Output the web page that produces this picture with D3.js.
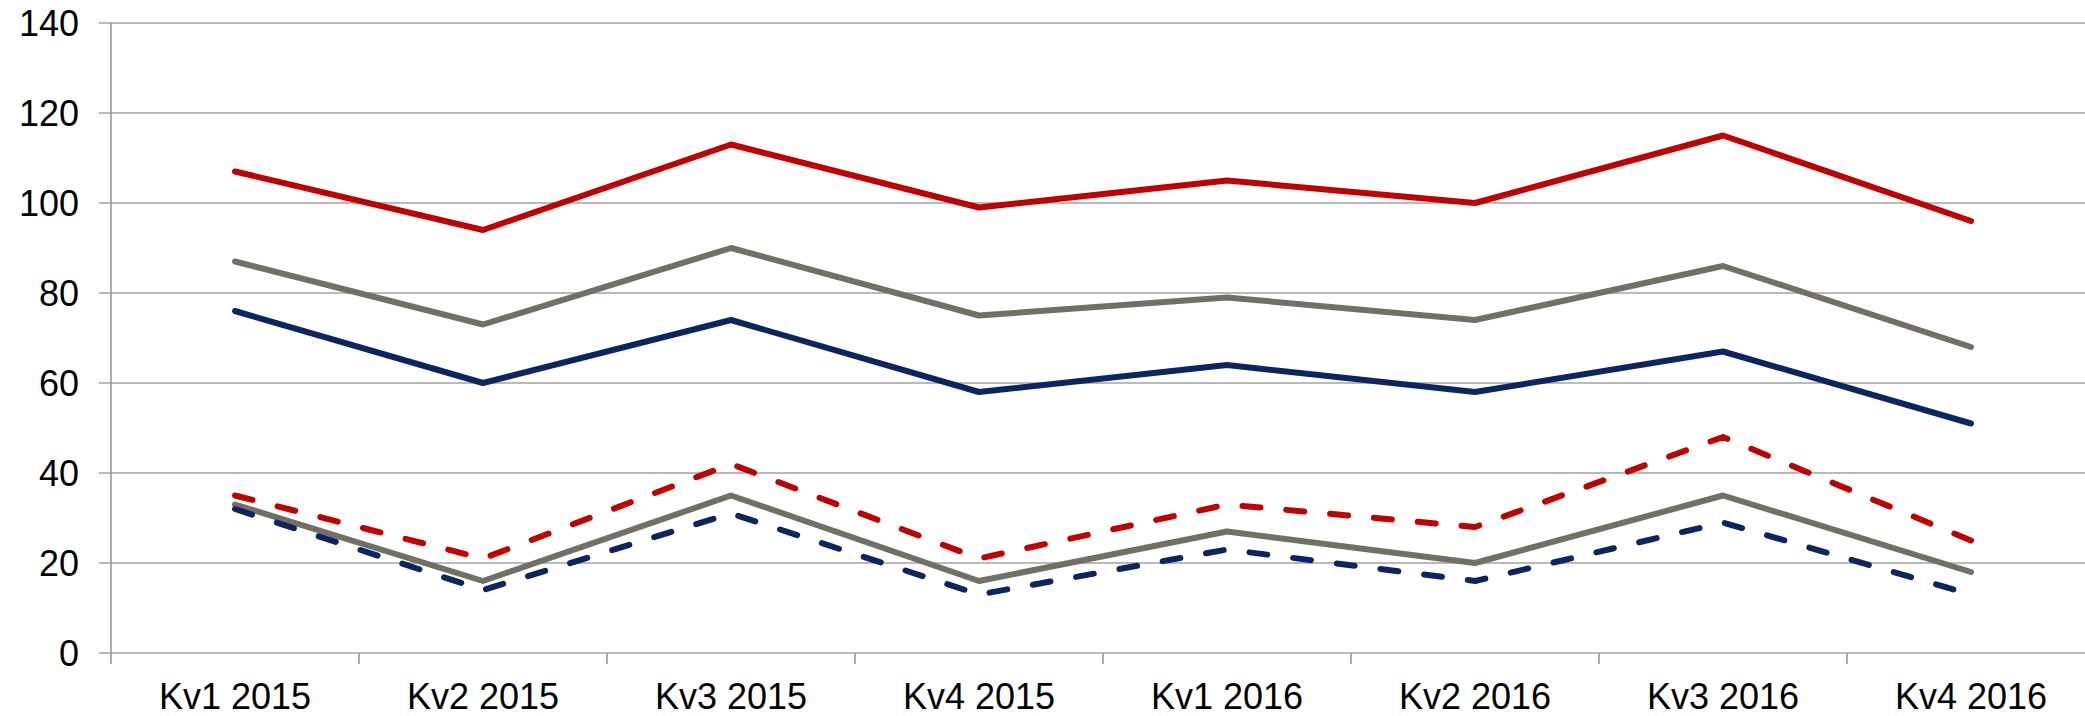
<!DOCTYPE html>
<html>
<head>
<meta charset="utf-8">
<script src="https://cdn.jsdelivr.net/npm/d3@7"></script>
<style>
  body { margin: 0; background: #fff; }
  svg { display: block; }
  text { font-family: "Liberation Sans", Arial, sans-serif; fill: #000; }
</style>
</head>
<body>
<div id="chart"></div>
<script>
let width = 2085;
let height = 716;
let margin = { top: 23, right: -10, bottom: 63, left: 111 };

let quarters = ['Kv1 2015', 'Kv2 2015', 'Kv3 2015', 'Kv4 2015', 'Kv1 2016', 'Kv2 2016', 'Kv3 2016', 'Kv4 2016'];
let yTicks = [0, 20, 40, 60, 80, 100, 120, 140];

// series, top to bottom as drawn
let redSolid   = [107, 94, 113, 99, 105, 100, 115, 96];
let graySolid  = [87, 73, 90, 75, 79, 74, 86, 68];
let blueSolid  = [76, 60, 74, 58, 64, 58, 67, 51];
let redDashed  = [35, 21, 42, 21, 33, 28, 48, 25];
let grayLower  = [33, 16, 35, 16, 27, 20, 35, 18];
let blueDashed = [32, 14, 31, 13, 23, 16, 29, 13];

let series = [
  { values: grayLower,  color: '#746f66', dashed: false },
  { values: blueDashed, color: '#0c2461', dashed: true },
  { values: redDashed,  color: '#c00000', dashed: true },
  { values: blueSolid,  color: '#0c2461', dashed: false },
  { values: graySolid,  color: '#746f66', dashed: false },
  { values: redSolid,   color: '#c00000', dashed: false }
];

let svg = d3.select('#chart').append('svg')
  .attr('width', width)
  .attr('height', height);

let x = d3.scaleBand()
  .domain(quarters)
  .range([margin.left, width - margin.right])
  .paddingInner(0).paddingOuter(0);

let y = d3.scaleLinear()
  .domain([0, 140])
  .range([height - margin.bottom, margin.top]);

// horizontal gridlines
svg.append('g')
  .selectAll('line')
  .data(yTicks)
  .enter().append('line')
  .attr('x1', margin.left - 12)
  .attr('x2', width)
  .attr('y1', d => y(d))
  .attr('y2', d => y(d))
  .attr('stroke', '#a3a3a3')
  .attr('stroke-width', 1.6);

// y axis labels
svg.append('g')
  .selectAll('text')
  .data(yTicks)
  .enter().append('text')
  .attr('x', 79)
  .attr('y', d => y(d) + 13)
  .attr('text-anchor', 'end')
  .style('font-size', '36px')
  .text(d => d);

// y axis line
svg.append('line')
  .attr('x1', margin.left).attr('x2', margin.left)
  .attr('y1', y(140)).attr('y2', y(0) + 11)
  .attr('stroke', '#999')
  .attr('stroke-width', 1.6);

// category ticks
let xBounds = quarters.slice(1).map(q => x(q));
svg.append('g')
  .selectAll('line')
  .data(xBounds)
  .enter().append('line')
  .attr('x1', d => d).attr('x2', d => d)
  .attr('y1', y(0)).attr('y2', y(0) + 11)
  .attr('stroke', '#999')
  .attr('stroke-width', 1.6);

// category labels
svg.append('g')
  .selectAll('text')
  .data(quarters)
  .enter().append('text')
  .attr('x', d => x(d) + x.bandwidth() / 2)
  .attr('y', 709)
  .attr('text-anchor', 'middle')
  .style('font-size', '36px')
  .text(d => d);

let line = d3.line()
  .x((d, i) => x(quarters[i]) + x.bandwidth() / 2)
  .y(d => y(d));

svg.append('g')
  .selectAll('path')
  .data(series)
  .enter().append('path')
  .attr('d', d => line(d.values))
  .attr('fill', 'none')
  .attr('stroke', d => d.color)
  .attr('stroke-width', 6)
  .attr('stroke-linecap', 'round')
  .attr('stroke-linejoin', 'round')
  .attr('stroke-dasharray', d => d.dashed ? '18,26' : null);
</script>
</body>
</html>
